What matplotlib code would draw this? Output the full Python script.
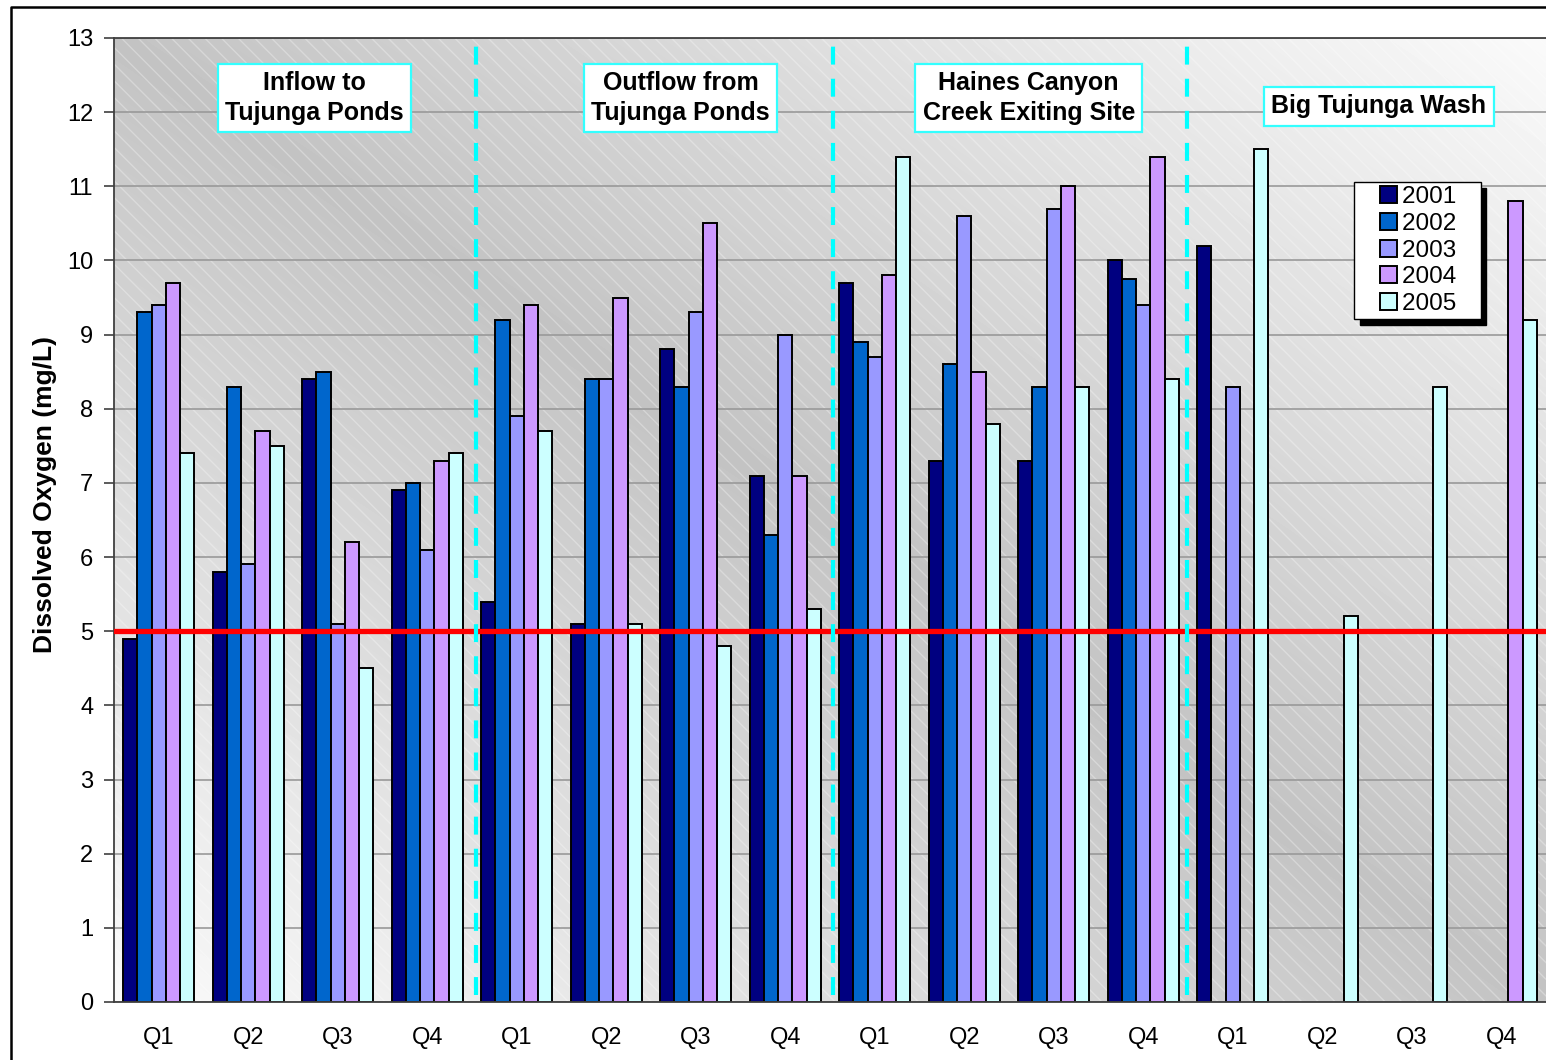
#!/usr/bin/env python3

import numpy as np
import matplotlib
matplotlib.use("Agg")
import matplotlib.pyplot as plt
from matplotlib.patches import Rectangle
from matplotlib.lines import Line2D
from matplotlib.container import BarContainer
from matplotlib.legend_handler import HandlerPatch, update_from_first_child

plt.rcParams['font.family'] = ['Liberation Sans', 'DejaVu Sans']
plt.rcParams['hatch.linewidth'] = 1.0

# quarters for the four sites
quarters = ["Q1", "Q2", "Q3", "Q4"] * 4
years = ["2001", "2002", "2003", "2004", "2005"]
colors = ["#000080", "#0066CC", "#9999FF", "#CC99FF", "#CCFFFF"]

nan = np.nan
do_2001 = [4.9, 5.8, 8.4, 6.9, 5.4, 5.1, 8.8, 7.1, 9.7, 7.3, 7.3, 10.0, 10.2, nan, nan, nan]
do_2002 = [9.3, 8.3, 8.5, 7.0, 9.2, 8.4, 8.3, 6.3, 8.9, 8.6, 8.3, 9.75, nan, nan, nan, nan]
do_2003 = [9.4, 5.9, 5.1, 6.1, 7.9, 8.4, 9.3, 9.0, 8.7, 10.6, 10.7, 9.4, 8.3, nan, nan, nan]
do_2004 = [9.7, 7.7, 6.2, 7.3, 9.4, 9.5, 10.5, 7.1, 9.8, 8.5, 11.0, 11.4, nan, nan, nan, 10.8]
do_2005 = [7.4, 7.5, 4.5, 7.4, 7.7, 5.1, 4.8, 5.3, 11.4, 7.8, 8.3, 8.4, 11.5, 5.2, 8.3, 9.2]
series = [do_2001, do_2002, do_2003, do_2004, do_2005]

standard = 5.0
sites = ["Inflow to\nTujunga Ponds", "Outflow from\nTujunga Ponds",
         "Haines Canyon\nCreek Exiting Site", "Big Tujunga Wash"]

fig = plt.figure(figsize=(15.46, 10.6), dpi=100)
W, H = 1546.0, 1060.0
ax = fig.add_axes([114 / W, 1 - 1002 / H, (1546 - 114) / W, (1002 - 38) / H])

# background gradient + faint hatch
gx = np.linspace(0, 1, 300)
gy = np.linspace(0, 1, 200)
GX, GY = np.meshgrid(gx, gy)
t = (GX + GY) / 2
light, dark = 0.98, 0.765
val = light - (light - dark) * (1 - np.abs(2 * t - 1))
ax.imshow(val, origin="lower", extent=(-0.5, 15.5, 0, 13), aspect="auto",
          cmap="gray", vmin=0, vmax=1, zorder=0, interpolation="bilinear")
ax.add_patch(Rectangle((0, 0), 1, 1, transform=ax.transAxes, fill=False,
                       hatch="\\\\", edgecolor="white", lw=0, alpha=0.3, zorder=0.2))

x = np.arange(len(quarters))
w = 0.1585
for i, (vals, c, yr) in enumerate(zip(series, colors, years)):
    ax.bar(x + (i - 2) * w, vals, width=w, color=c, edgecolor="black",
           linewidth=1.4, label=yr + "   ", zorder=2)

ax.axhline(standard, color="#FF0000", lw=3.8, zorder=3)

for xs in [3.54, 7.53, 11.49]:
    ax.plot([xs, xs], [0.1, 12.9], color="#00FFFF", lw=3.0,
            linestyle=(0, (4.3, 3.4)), zorder=3)

ax.set_xlim(-0.5, 15.5)
ax.set_ylim(0, 13)
ax.set_yticks(range(0, 14))
ax.set_xticks(x)
ax.set_xticklabels(quarters, fontsize=17)
ax.tick_params(axis="x", length=0, pad=18)
ax.tick_params(axis="y", labelsize=17, length=7, width=1.2, color="#404040", pad=8)
ax.yaxis.grid(True, color="#999999", lw=1.2)
ax.set_axisbelow(True)
for s in ["left", "bottom", "top"]:
    ax.spines[s].set_color("#404040")
    ax.spines[s].set_linewidth(1.3)
ax.spines["right"].set_visible(False)

ax.set_ylabel("Dissolved Oxygen (mg/L)", fontsize=19, fontweight="bold")
ax.yaxis.set_label_coords(-0.040, 0.526)

# site labels
label_pos = [(1.74, 12.19), (5.83, 12.19), (9.72, 12.19), (13.63, 12.08)]
for txt, (lx, ly) in zip(sites, label_pos):
    ax.text(lx, ly, txt, ha="center", va="center", fontsize=18,
            fontweight="bold", linespacing=1.28, zorder=5,
            bbox=dict(boxstyle="square,pad=0.3", fc="white", ec="#33FFFF", lw=1.6))


def square_handle(legend, orig_handle, xdescent, ydescent, width, height, fontsize):
    s = height
    return Rectangle((width - s - xdescent, -ydescent), s, s)


leg = ax.legend(loc="upper left", bbox_to_anchor=(1354 / W, 1 - 182 / H),
                bbox_transform=fig.transFigure, borderaxespad=0, fontsize=17.5,
                fancybox=False, framealpha=1, edgecolor="black",
                handlelength=1.59, handleheight=0.7, handletextpad=0.2,
                labelspacing=0.19, borderpad=0.18,
                handler_map={BarContainer: HandlerPatch(patch_func=square_handle,
                                                        update_func=update_from_first_child)},
                shadow={"color": "black", "alpha": 1, "ox": 4, "oy": -4})
leg.get_frame().set_linewidth(1.0)
leg.set_zorder(6)

# outer chart border
fig.add_artist(Line2D([10.5 / W, 10.5 / W, 1.0], [0.0, 1 - 7 / H, 1 - 7 / H],
                      transform=fig.transFigure, color="black", lw=1.8))

plt.savefig("out.png", dpi=100)
